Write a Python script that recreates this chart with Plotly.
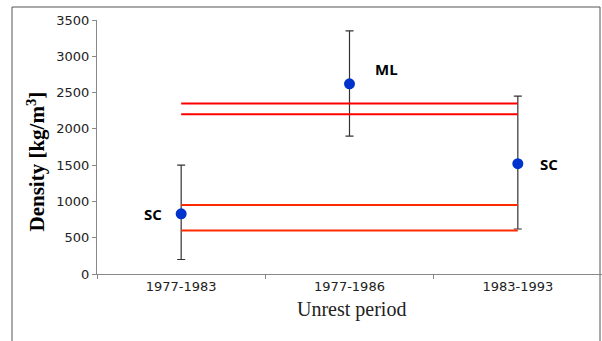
import plotly.graph_objects as go

# Unrest periods and estimated densities
periods = ["1977-1983", "1977-1986", "1983-1993"]
density = [830, 2620, 1520]
err_plus = [670, 730, 930]
err_minus = [630, 720, 900]
labels = ["SC", "ML", "SC"]
label_y = [830, 2820, 1520]
label_shift = [-28, 37, 31]

# Reference density bounds (upper and lower pairs)
bounds_upper = [2350, 2200]
bounds_lower = [950, 600]

W, H = 602, 341
ml, mr, mt, mb = 97, 0, 20, 67
pw, ph = W - ml - mr, H - mt - mb


def px_x(p):
    return (p - ml) / pw


def px_y(p):
    return (H - mb - p) / ph


fig = go.Figure()

fig.add_trace(go.Scatter(
    x=periods, y=density, mode="markers",
    marker=dict(color="rgba(0,0,0,0)", size=10),
    error_y=dict(type="data", symmetric=False, array=err_plus, arrayminus=err_minus,
                 color="#333333", thickness=1.2, width=4),
    showlegend=False, hoverinfo="skip",
))

for v in bounds_upper:
    fig.add_trace(go.Scatter(x=[periods[0], periods[-1]], y=[v, v], mode="lines",
                             line=dict(color="#ff0000", width=2), showlegend=False))
for v in bounds_lower:
    fig.add_trace(go.Scatter(x=[periods[0], periods[-1]], y=[v, v], mode="lines",
                             line=dict(color="#ff2a00", width=2), showlegend=False))

fig.add_trace(go.Scatter(
    x=periods, y=density, mode="markers",
    marker=dict(color="#0033cc", size=11), showlegend=False,
))

for i, (t, yv, dx) in enumerate(zip(labels, label_y, label_shift)):
    fig.add_annotation(x=periods[i], y=yv, text=f"<b>{t}</b>", showarrow=False,
                       xshift=dx, font=dict(family="Open Sans", size=15, color="black"))

# Axis titles
fig.add_annotation(xref="paper", yref="paper", x=px_x(20), y=px_y(162),
                   text="<b>Density [kg/m<sup>3</sup>]</b>", textangle=-90, showarrow=False,
                   font=dict(family="Liberation Serif", size=21, color="black"))
fig.add_annotation(xref="paper", yref="paper", x=px_x(351), y=px_y(323),
                   text="Unrest period", showarrow=False,
                   font=dict(family="Liberation Serif", size=20, color="#222222"))

# Outer frame around the whole chart
fig.add_shape(type="rect", xref="paper", yref="paper",
              x0=px_x(12), x1=px_x(600), y0=px_y(H + 10), y1=px_y(7),
              line=dict(color="#555555", width=1), layer="below")

fig.update_layout(
    width=W, height=H,
    margin=dict(l=ml, r=mr, t=mt, b=mb),
    plot_bgcolor="white", paper_bgcolor="white",
    xaxis=dict(
        type="category", range=[-0.5, 2.5], tickson="boundaries",
        ticks="outside", ticklen=4, tickcolor="#888888",
        showline=True, linecolor="#888888", linewidth=1, showgrid=False,
        tickfont=dict(family="DejaVu Sans", size=13, color="#222222"),
    ),
    yaxis=dict(
        range=[0, 3500], dtick=500, ticks="outside", ticklen=4, tickcolor="#888888",
        showline=True, linecolor="#888888", linewidth=1, showgrid=False, zeroline=False,
        tickfont=dict(family="DejaVu Sans", size=13, color="#222222"),
    ),
)

fig.write_html("out.html")
